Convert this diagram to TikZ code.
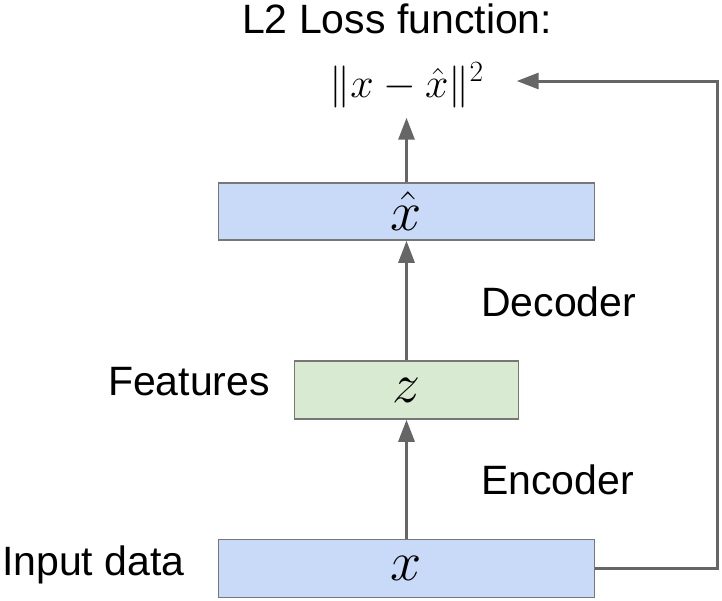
\RequirePackage{fix-cm}
\documentclass[tikz,border=0pt]{standalone}
\usepackage[no-math]{fontspec}
\setmainfont{Liberation Sans}
\usetikzlibrary{arrows.meta}
\definecolor{boxblue}{HTML}{C9DAF8}
\definecolor{boxgreen}{HTML}{D9EAD3}
\definecolor{edgegray}{HTML}{777777}
\definecolor{linegray}{HTML}{666666}
\begin{document}
\begin{tikzpicture}[x=1pt, y=-1pt,
  label text/.style={inner sep=0pt, font=\fontsize{41}{49}\selectfont},
  layer/.style={draw=edgegray, line width=1.5pt, inner sep=0pt,
    font=\fontsize{56}{60}\selectfont},
  flow/.style={draw=linegray, line width=3pt,
    -{Triangle[length=22pt, width=16pt]}}]
\useasboundingbox (0,0) rectangle (722,600);
\node[layer, fill=boxblue, minimum width=376pt, minimum height=58pt] (xin) at (406.5,568.5) {$x$};
\node[layer, fill=boxgreen, minimum width=224pt, minimum height=58pt] (z) at (406.5,390) {$z$};
\node[layer, fill=boxblue, minimum width=376pt, minimum height=57pt] (xhat) at (406.5,211.5) {$\hat{x}$};
\node[inner xsep=33pt, inner ysep=10pt, anchor=base, font=\fontsize{42}{48}\selectfont] (loss) at (406.5,97) {$\|x-\hat{x}\|^2$};
\node[label text, anchor=base west] (title) at (242,33) {L2 Loss function:};
\node[label text, anchor=base west] (dec) at (481,316) {Decoder};
\node[label text, anchor=base west] (enc) at (481,494) {Encoder};
\node[label text, anchor=base east] (feat) at (270,395) {Features};
\node[label text, anchor=base west] (input) at (2,575) {Input data};
\draw[flow] (xin.north) -- (z.south);
\draw[flow] (z.north) -- (xhat.south);
\draw[flow] (xhat.north) -- (loss.south);
% skip connection back to the loss
\coordinate (c1) at (717,568.5);
\coordinate (c2) at (717,81);
\draw[flow] (xin.east) -- (c1) -- (c2) -- (c2 -| loss.east);
\end{tikzpicture}
\end{document}
